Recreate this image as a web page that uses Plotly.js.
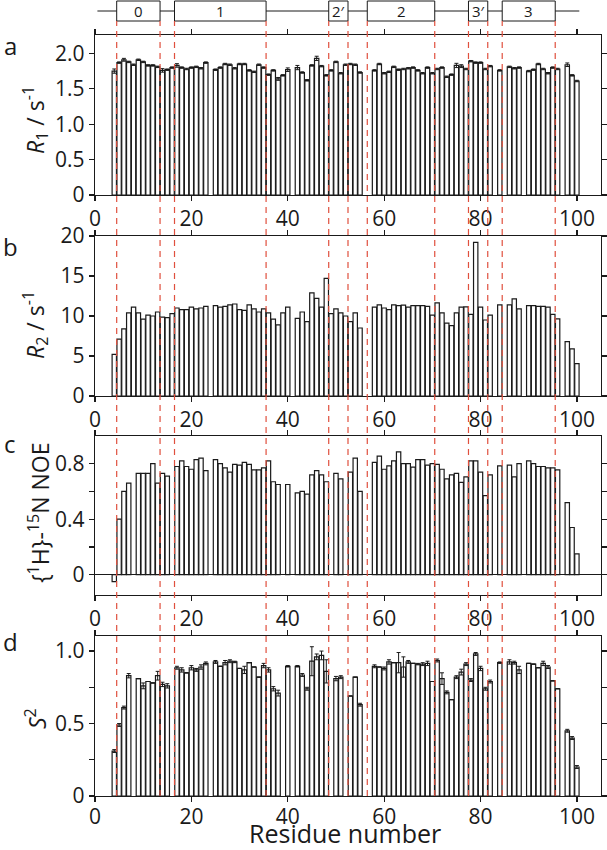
<!DOCTYPE html>
<html><head><meta charset="utf-8">
<script src="https://cdn.plot.ly/plotly-3.0.1.min.js"></script>
<style>html,body{margin:0;padding:0;background:#fff}#chart{width:607px;height:850px}</style>
</head><body><div id="chart"></div>
<script>
// ---------------- data ----------------
// residues with R1 / R2 data
const resR = [4,5,6,7,8,9,10,11,12,13,14,15,16,17,18,19,20,21,22,23,
  25,26,27,28,29,30,31,32,33,34,35,36,37,38,39,40,
  42,43,44,45,46,47,48,49,50,51,52,53,54,55,
  58,59,60,61,62,63,64,65,66,67,68,69,70,71,72,73,74,75,76,77,78,79,80,81,82,
  84,86,87,88,90,91,92,93,94,95,96,98,99,100];
const r1 = [1.75,1.87,1.91,1.88,1.84,1.91,1.88,1.83,1.83,1.81,1.76,1.77,1.80,1.83,1.80,1.78,1.80,1.81,1.79,1.87,
  1.77,1.80,1.85,1.84,1.79,1.85,1.85,1.76,1.74,1.84,1.80,1.70,1.76,1.64,1.69,1.77,
  1.80,1.73,1.62,1.83,1.93,1.82,1.69,1.76,1.88,1.72,1.84,1.85,1.84,1.73,
  1.76,1.85,1.72,1.74,1.81,1.77,1.78,1.79,1.80,1.76,1.72,1.80,1.72,1.78,1.80,1.67,1.70,1.83,1.82,1.78,1.89,1.87,1.87,1.78,1.82,
  1.76,1.81,1.79,1.80,1.75,1.77,1.85,1.78,1.72,1.80,1.78,1.84,1.69,1.61];
const r1Err = [0.03,0.01,0.02,0.01,0.01,0.01,0.01,0.01,0.01,0.01,0.025,0.01,0.01,0.025,0.01,0.01,0.01,0.01,0.01,0.01,
  0.01,0.01,0.01,0.01,0.01,0.01,0.01,0.01,0.01,0.01,0.01,0.01,0.01,0.02,0.01,0.025,
  0.03,0.01,0.01,0.01,0.03,0.01,0.01,0.01,0.01,0.01,0.01,0.01,0.01,0.01,
  0.01,0.01,0.01,0.01,0.01,0.01,0.01,0.01,0.01,0.01,0.01,0.01,0.01,0.01,0.01,0.01,0.01,0.03,0.02,0.01,0.01,0.01,0.01,0.01,0.01,
  0.01,0.01,0.01,0.01,0.01,0.01,0.01,0.01,0.01,0.01,0.01,0.025,0.01,0.01];
const r2 = [5.2,7.1,8.4,10.4,11.1,10.4,9.6,10.1,10.0,10.5,9.85,9.8,10.3,11.0,10.8,10.8,11.1,10.9,11.0,11.2,
  11.3,11.1,11.2,11.4,11.5,10.8,10.7,11.4,10.9,10.5,10.9,10.4,9.6,8.9,10.4,11.1,
  9.7,10.5,9.3,12.9,12.2,11.1,14.7,10.3,10.9,10.4,10.0,9.3,10.4,8.5,
  11.1,11.4,11.0,10.8,11.4,11.3,11.35,11.1,11.3,11.3,11.3,11.2,10.1,11.65,10.4,9.1,8.8,10.4,11.1,11.15,10.2,19.2,11.1,9.5,10.1,
  11.4,11.4,12.15,10.9,11.3,11.3,11.2,11.2,11.1,10.2,9.65,6.8,5.9,4.05];
// residues with NOE / S2 data
const resN = [4,5,6,7,9,10,11,12,13,14,15,17,18,19,20,21,22,23,
  25,26,27,28,29,30,31,32,33,34,35,36,37,38,40,
  42,43,44,45,46,47,48,50,51,53,54,55,
  58,59,60,61,62,63,64,65,66,67,68,69,70,71,72,73,74,75,76,77,78,79,80,81,82,
  84,86,87,88,90,91,92,93,94,95,96,98,99,100];
const noe = [-0.05,0.40,0.60,0.66,0.73,0.73,0.73,0.80,0.66,0.73,0.71,0.78,0.82,0.78,0.76,0.83,0.84,0.75,
  0.83,0.80,0.77,0.74,0.795,0.79,0.81,0.795,0.755,0.755,0.77,0.82,0.67,0.65,0.65,
  0.59,0.60,0.58,0.72,0.75,0.72,0.67,0.73,0.69,0.74,0.84,0.60,
  0.81,0.855,0.76,0.785,0.82,0.885,0.80,0.80,0.775,0.83,0.83,0.79,0.80,0.795,0.76,0.69,0.72,0.73,0.665,0.705,0.82,0.82,0.74,0.57,0.72,
  0.785,0.79,0.705,0.80,0.82,0.80,0.78,0.78,0.77,0.77,0.755,0.52,0.34,0.15];
const s2 = [0.31,0.49,0.61,0.83,0.81,0.76,0.79,0.78,0.83,0.77,0.76,0.885,0.87,0.85,0.885,0.87,0.89,0.915,
  0.925,0.895,0.92,0.93,0.925,0.88,0.87,0.92,0.89,0.82,0.90,0.87,0.74,0.71,0.895,
  0.895,0.835,0.74,0.93,0.96,0.97,0.86,0.81,0.82,0.69,0.82,0.63,
  0.895,0.89,0.88,0.925,0.92,0.92,0.89,0.925,0.915,0.91,0.91,0.915,0.79,0.935,0.81,0.715,0.665,0.82,0.855,0.91,0.80,0.98,0.88,0.74,0.79,
  0.92,0.925,0.92,0.87,0.915,0.91,0.885,0.915,0.89,0.795,0.74,0.45,0.40,0.20];
const s2Err = [0.01,0.01,0.01,0.015,0,0.02,0,0,0.03,0.015,0.015,0.01,0.015,0,0.015,0.01,0.015,0.01,
  0.01,0,0.015,0.01,0.005,0,0.025,0,0,0,0.015,0.015,0.015,0.02,0.005,
  0.005,0.01,0.01,0.1,0.02,0.03,0.08,0.015,0.01,0,0,0.01,
  0.01,0,0.01,0.015,0,0.07,0.07,0.01,0,0.005,0.01,0.015,0,0.01,0.04,0.01,0,0.01,0.02,0.01,0.01,0.01,0.015,0.01,0.01,
  0.005,0.015,0.01,0.025,0,0,0,0.015,0.01,0,0,0.01,0.01,0.01];
// secondary structure and boundaries
const ssLabel = ['0','1','2\u2032','2','3\u2032','3'];
const ssStart = [4.5,16.5,48.5,56.5,77.5,84.5];
const ssEnd   = [13.5,35.5,52.5,70.5,81.5,95.5];
const boundaries = [4.5,13.5,16.5,35.5,48.5,52.5,56.5,70.5,77.5,81.5,84.5,95.5];
const seqRange = [0.5,100.5];
const xTicks = [0,20,40,60,80,100];
const panelLetters = ['a','b','c','d'];

// ---------------- layout helpers ----------------
const W=607,H=850,ML=95,MR=6,MT=35,MB=54;
const PW=W-ML-MR, PH=H-MT-MB;
const fx = px => (px-ML)/PW;
const fy = py => (H-MB-py)/PH;
const FONT = 'Open Sans, sans-serif';
const INK = '#1a1a1a';
const panels = [[35,195],[236,396],[436,595],[636,796]];

function xax(i, extra){
  return Object.assign({domain:[0,1], anchor:'y'+(i===1?'':i), range:[0,105], tickvals:xTicks,
    ticks:'outside', ticklen:5, tickwidth:1.2, tickcolor:INK, showline:true, linecolor:INK, linewidth:1.2,
    mirror:'ticks', showgrid:false, zeroline:false, tickfont:{family:FONT,size:21,color:INK}, fixedrange:true}, extra||{});
}
function yax(i, range, tv, tt, extra){
  const p = panels[i-1];
  return Object.assign({domain:[fy(p[1]), fy(p[0])], anchor:'x'+(i===1?'':i), range, tickvals:tv, ticktext:tt,
    ticks:'outside', ticklen:5, tickwidth:1.2, tickcolor:INK, showline:true, linecolor:INK, linewidth:1.2,
    mirror:'ticks', showgrid:false, zeroline:false, tickfont:{family:FONT,size:21,color:INK}, fixedrange:true}, extra||{});
}
function minorTicks(vals){
  return {minor:{tickvals:vals, ticks:'outside', ticklen:5, tickwidth:1.2, tickcolor:INK, showgrid:false}};
}
const barStyle = {color:'#ffffff', line:{color:INK, width:1.2}};
const errStyle = {color:INK, thickness:1, width:2};

const traces = [
  {type:'bar', x:resR, y:r1, xaxis:'x', yaxis:'y', marker:barStyle,
   error_y:Object.assign({type:'data', array:r1Err, visible:true}, errStyle)},
  {type:'bar', x:resR, y:r2, xaxis:'x2', yaxis:'y2', marker:barStyle},
  {type:'bar', x:resN, y:noe, xaxis:'x3', yaxis:'y3', marker:barStyle},
  {type:'bar', x:resN, y:s2, xaxis:'x4', yaxis:'y4', marker:barStyle,
   error_y:Object.assign({type:'data', array:s2Err, visible:true}, errStyle)}
];

const shapes = [];
const annotations = [];
const boxTop = fy(1), boxBot = fy(21), lineY = fy(11);
shapes.push({type:'line', xref:'x', yref:'paper', x0:seqRange[0], x1:seqRange[1], y0:lineY, y1:lineY, line:{color:INK,width:1}});
ssLabel.forEach((lab,k)=>{
  shapes.push({type:'rect', xref:'x', yref:'paper', x0:ssStart[k], x1:ssEnd[k], y0:boxBot, y1:boxTop,
    fillcolor:'#fff', line:{color:INK,width:1}});
  annotations.push({xref:'x', yref:'paper', x:(ssStart[k]+ssEnd[k])/2, y:lineY, text:lab, showarrow:false,
    xanchor:'center', yanchor:'middle', borderpad:0, font:{family:FONT,size:15,color:INK}});
});
boundaries.forEach(b=>{
  shapes.push({type:'line', xref:'x', yref:'paper', x0:b, x1:b, y0:0, y1:boxBot,
    line:{color:'#e0503e', width:1.2, dash:'6px,5px'}, layer:'above'});
});
const letterY = [45,246,444,641];
panelLetters.forEach((L,k)=>{
  annotations.push({xref:'paper', yref:'paper', x:fx(10), y:fy(letterY[k]), text:L, showarrow:false,
    xanchor:'center', yanchor:'middle', font:{family:FONT,size:24,color:INK}});
});
const titles = [
  ['<i>R</i><sub>1</sub> / s<sup>-1</sup>', 35, 120],
  ['<i>R</i><sub>2</sub> / s<sup>-1</sup>', 35, 325],
  ['{<sup>1</sup>H}-<sup>15</sup>N NOE', 39, 513],
  ['<i>S</i><sup>2</sup>', 36, 719]
];
titles.forEach(t=>{
  annotations.push({xref:'paper', yref:'paper', x:fx(t[1]), y:fy(t[2]), text:t[0], textangle:-90, showarrow:false,
    xanchor:'center', yanchor:'middle', font:{family:FONT,size:23,color:INK}});
});
annotations.push({xref:'paper', yref:'paper', x:fx(345), y:fy(833), text:'Residue number', showarrow:false,
  xanchor:'center', yanchor:'middle', borderpad:0, font:{family:FONT,size:25,color:INK}});

const layout = {
  width:W, height:H, margin:{l:ML,r:MR,t:MT,b:MB}, paper_bgcolor:'#fff', plot_bgcolor:'#fff',
  showlegend:false, bargap:0.1, font:{family:FONT,color:INK},
  xaxis:xax(1), xaxis2:xax(2), xaxis3:xax(3), xaxis4:xax(4, {ticklabelstandoff:-3}),
  yaxis:yax(1,[0,2.26],[0,0.5,1,1.5,2],['0','0.5','1.0','1.5','2.0']),
  yaxis2:yax(2,[0,20],[0,5,10,15,20],['0','5','10','15','20']),
  yaxis3:yax(3,[-0.147,1.0],[0,0.4,0.8],['0','0.4','0.8'],
    Object.assign({zeroline:true, zerolinecolor:INK, zerolinewidth:1.2}, minorTicks([0.2,0.6]))),
  yaxis4:yax(4,[0,1.104],[0,0.5,1.0],['0','0.5','1.0'], minorTicks([0.25,0.75])),
  shapes, annotations
};
Plotly.newPlot('chart', traces, layout, {displayModeBar:false, staticPlot:true});
</script>
</body></html>
